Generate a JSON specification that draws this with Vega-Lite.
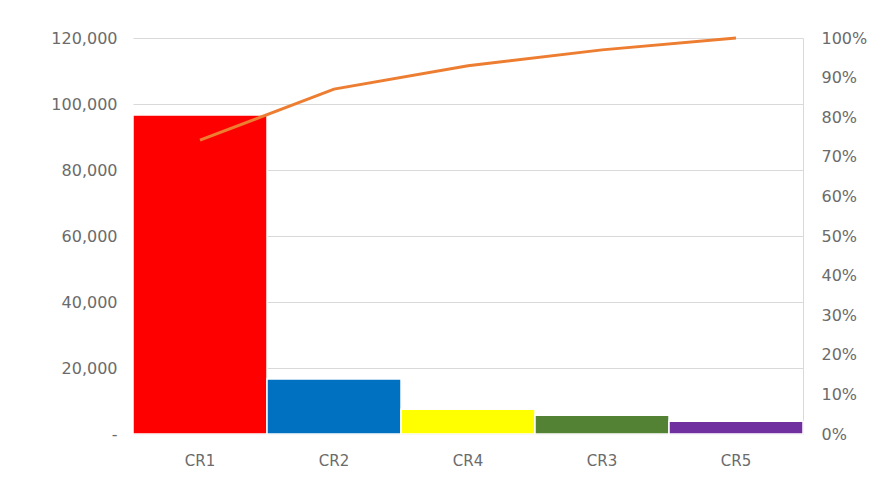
{
  "$schema": "https://vega.github.io/schema/vega-lite/v6.json",
  "width": 670,
  "height": 396,
  "autosize": "none",
  "padding": {"left": 133, "top": 38, "right": 84, "bottom": 43},
  "background": "white",
  "config": {
    "view": {"stroke": null},
    "font": "DejaVu Sans",
    "axis": {"labelFont": "DejaVu Sans", "labelColor": "#6b6b6b", "labelFontSize": 16}
  },
  "data": {
    "values": [
      {"cat": "CR1", "value": 96700, "cum": 0.742, "color": "#FF0000"},
      {"cat": "CR2", "value": 16700, "cum": 0.871, "color": "#0070C0"},
      {"cat": "CR4", "value": 7500, "cum": 0.93, "color": "#FFFF00"},
      {"cat": "CR3", "value": 5700, "cum": 0.97, "color": "#548235"},
      {"cat": "CR5", "value": 3900, "cum": 1.0, "color": "#7030A0"}
    ]
  },
  "encoding": {
    "x": {
      "field": "cat",
      "type": "nominal",
      "sort": null,
      "scale": {"paddingInner": 0, "paddingOuter": 0},
      "axis": {"title": null, "labelAngle": 0, "ticks": false, "domain": true, "domainColor": "#d9d9d9", "labelPadding": 19, "labelFontSize": 15}
    }
  },
  "layer": [
    {
      "mark": {"type": "bar", "stroke": "white", "strokeWidth": 1.5},
      "encoding": {
        "y": {
          "field": "value",
          "type": "quantitative",
          "scale": {"domain": [0, 120000]},
          "axis": {
            "title": null,
            "values": [0, 20000, 40000, 60000, 80000, 100000, 120000],
            "labelExpr": "datum.value == 0 ? '-' : format(datum.value, ',')",
            "domain": false,
            "ticks": false,
            "gridColor": "#d9d9d9",
            "labelPadding": 16
          }
        },
        "color": {"field": "color", "type": "nominal", "scale": null}
      }
    },
    {
      "mark": {"type": "line", "color": "#ED7D31", "strokeWidth": 3},
      "encoding": {
        "y": {
          "field": "cum",
          "type": "quantitative",
          "scale": {"domain": [0, 1]},
          "axis": {
            "title": null,
            "orient": "right",
            "format": ".0%",
            "values": [0, 0.1, 0.2, 0.3, 0.4, 0.5, 0.6, 0.7, 0.8, 0.9, 1.0],
            "grid": false,
            "ticks": false,
            "domain": true,
            "domainColor": "#d9d9d9",
            "labelPadding": 18
          }
        }
      }
    }
  ],
  "resolve": {"scale": {"y": "independent"}}
}
